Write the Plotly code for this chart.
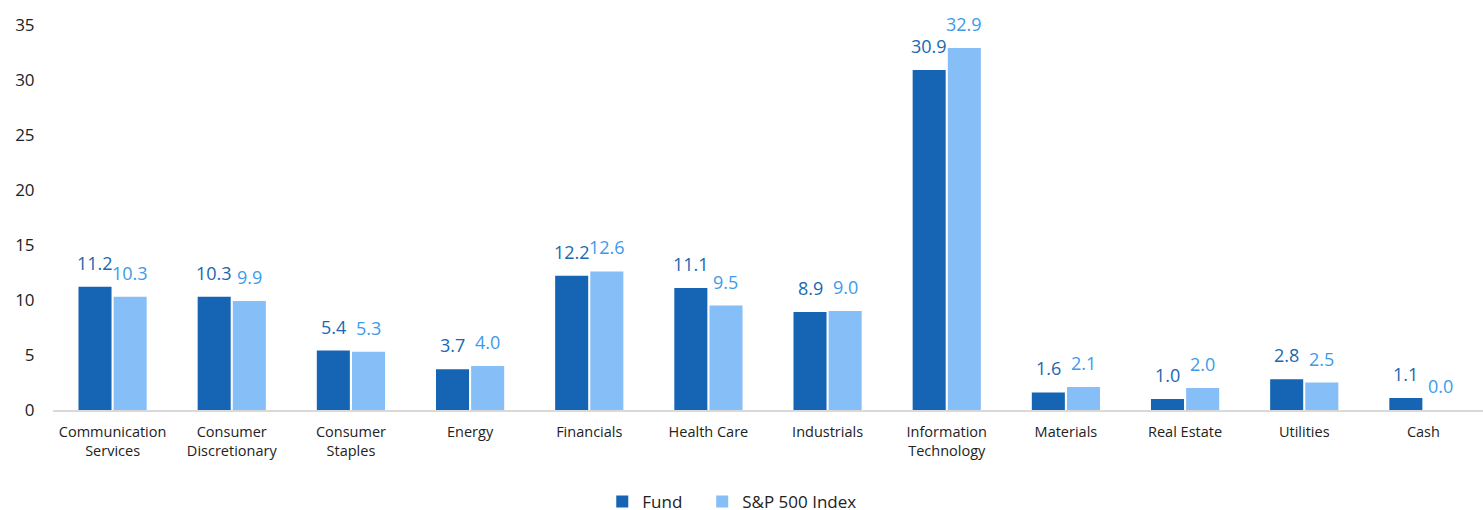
import plotly.graph_objects as go

categories = ["Communication<br>Services", "Consumer<br>Discretionary", "Consumer<br>Staples", "Energy",
              "Financials", "Health Care", "Industrials", "Information<br>Technology", "Materials",
              "Real Estate", "Utilities", "Cash"]
fund = [11.2, 10.3, 5.4, 3.7, 12.2, 11.1, 8.9, 30.9, 1.6, 1.0, 2.8, 1.1]
index = [10.3, 9.9, 5.3, 4.0, 12.6, 9.5, 9.0, 32.9, 2.1, 2.0, 2.5, 0.0]
series_names = ["Fund", "S&P 500 Index"]
y_ticks = [0, 5, 10, 15, 20, 25, 30, 35]
title_text = "Sector Weighting (%)"

FONT = "Open Sans"
bar_colors = ["#1565B4", "#86BEF8"]
label_colors = ["#1A67B2", "#3C9BEB"]
legend_ids = ["legend", "legend2"]

fig = go.Figure()
for name, vals, col, lg in zip(series_names, [fund, index], bar_colors, legend_ids):
    fig.add_trace(go.Bar(x=categories, y=vals, name=name, legend=lg,
                         marker=dict(color=col, line_width=0)))

annotations = []
for k, (vals, col) in enumerate(zip([fund, index], label_colors)):
    shift = -17.5 if k == 0 else 17.5
    for c, v in zip(categories, vals):
        annotations.append(dict(x=c, y=v, xref="x", yref="y", text=f"{v:.1f}", showarrow=False,
                                xshift=shift, yshift=10, yanchor="bottom",
                                font=dict(family=FONT, size=18, color=col)))
annotations.append(dict(x=0.51, y=1, xref="paper", yref="paper", text="<b>" + title_text + "</b>",
                        showarrow=False, yanchor="bottom", yshift=22,
                        font=dict(family=FONT, size=18, color="#111111")))

legend_style = dict(orientation="h", xanchor="left", y=-0.239, yanchor="middle",
                    font=dict(family=FONT, size=17, color="#222222"), itemwidth=30,
                    bgcolor="rgba(0,0,0,0)")

fig.update_layout(
    width=1483, height=510,
    margin=dict(l=53, r=0, t=25, b=100, autoexpand=False),
    paper_bgcolor="white", plot_bgcolor="white",
    barmode="group", bargap=0.41, bargroupgap=0.06,
    font=dict(family=FONT, color="#222222"),
    showlegend=True,
    legend=dict(x=0.3841, **legend_style),
    legend2=dict(x=0.4540, **legend_style),
    annotations=annotations,
)
fig.update_xaxes(showline=True, linecolor="#D9D9D9", linewidth=2, showgrid=False, automargin=False,
                 tickfont=dict(family=FONT, size=14.5, color="#222222"),
                 ticks="outside", ticklen=8, tickcolor="rgba(0,0,0,0)")
fig.update_yaxes(range=[0, 35], tickvals=y_ticks, showgrid=False, zeroline=False, showline=False,
                 automargin=False,
                 tickfont=dict(family=FONT, size=17, color="#222222"),
                 ticks="outside", ticklen=14, tickcolor="rgba(0,0,0,0)")

fig.write_html("out.html", config={"displayModeBar": False},
               post_script="document.body.style.margin='0';document.body.style.overflow='hidden';")
